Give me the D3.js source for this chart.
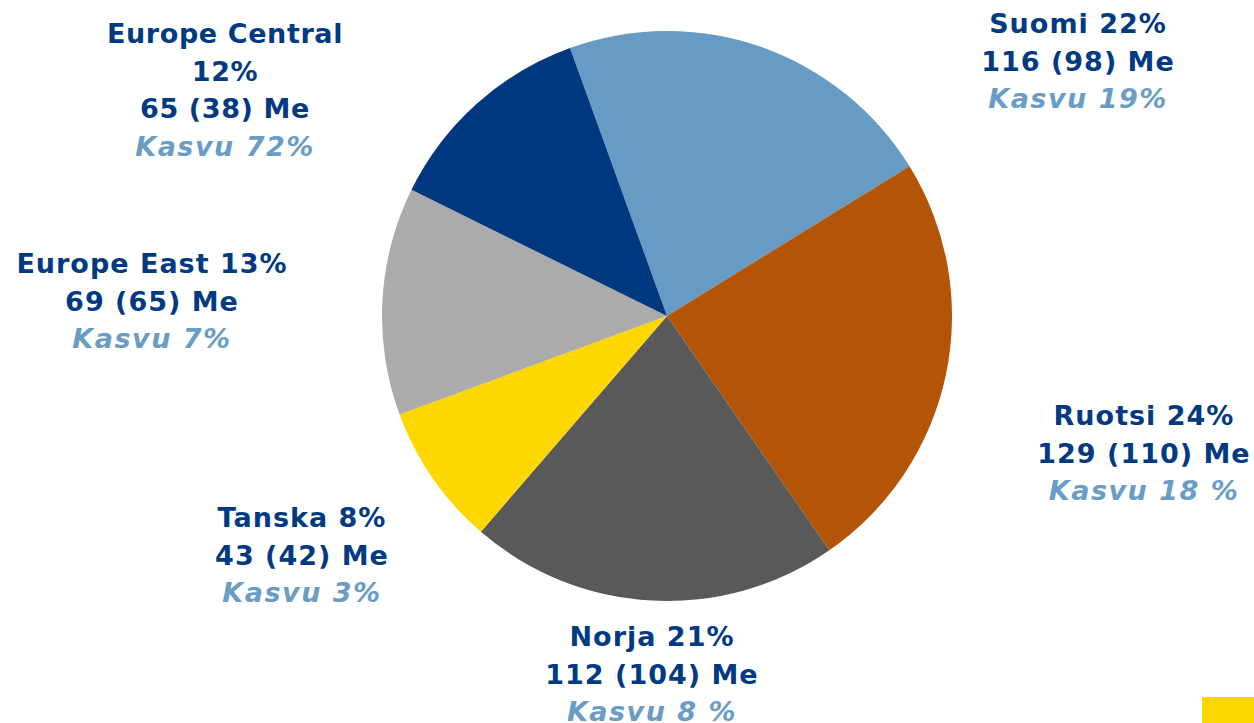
<!DOCTYPE html>
<html><head><meta charset="utf-8">
<script src="https://cdn.jsdelivr.net/npm/d3@7"></script>
<style>
html,body{margin:0;padding:0;background:#fff;}
svg{display:block;}
</style></head>
<body>
<svg id="chart" width="1254" height="723"></svg>
<script>
// Data
const categories = ["Suomi", "Ruotsi", "Norja", "Tanska", "Europe East", "Europe Central"];
const values = [116, 129, 112, 43, 69, 65];          // Me, current
const previous = [98, 110, 104, 42, 65, 38];          // Me, previous year
const shareLabels = ["22%", "24%", "21%", "8%", "13%", "12%"];
const growthLabels = ["19%", "18 %", "8 %", "3%", "7%", "72%"];

// Styles / layout (not data)
const colors = ["#659BC4", "#B35407", "#595959", "#FFD700", "#ABABAB", "#00387F"];
const navy = "#003A82", light = "#6A9DC6";
const cx = 667, cy = 316, R = 285;
const startDeg = -19.9;
// label anchor (center x, first baseline) and line arrangement
const labelLayout = [
  {x: 1078, y: 33,  split: false},
  {x: 1144, y: 425, split: false},
  {x: 652,  y: 646, split: false},
  {x: 302,  y: 527, split: false},
  {x: 152,  y: 273, split: false},
  {x: 225,  y: 43,  split: true}
];
const lineH = 37.5;

const svg = d3.select("#chart");
const pie = d3.pie().sort(null).value(d => d)
  .startAngle(startDeg * Math.PI / 180)
  .endAngle((startDeg + 360) * Math.PI / 180);
const arc = d3.arc().innerRadius(0).outerRadius(R);
const color = d3.scaleOrdinal().domain(categories).range(colors);

const g = svg.append("g").attr("transform", `translate(${cx},${cy})`);
g.selectAll("path").data(pie(values)).join("path")
  .attr("d", arc)
  .attr("fill", (d, i) => color(categories[i]));

const font = "'DejaVu Sans', Verdana, sans-serif";
categories.forEach((c, i) => {
  const L = labelLayout[i];
  let lines;
  if (L.split) {
    lines = [
      {t: c, col: navy, it: false},
      {t: shareLabels[i], col: navy, it: false}
    ];
  } else {
    lines = [{t: c + " " + shareLabels[i], col: navy, it: false}];
  }
  lines.push({t: values[i] + " (" + previous[i] + ") Me", col: navy, it: false});
  lines.push({t: "Kasvu " + growthLabels[i], col: light, it: true});
  const t = svg.append("text")
    .attr("text-anchor", "middle")
    .attr("font-family", font)
    .attr("font-weight", "bold")
    .attr("font-size", 27);
  lines.forEach((ln, k) => {
    t.append("tspan")
      .attr("x", L.x)
      .attr("y", L.y + k * lineH)
      .attr("fill", ln.col)
      .attr("font-style", ln.it ? "italic" : "normal")
      .attr("letter-spacing", ln.it ? 1.5 : (L.split ? 0.6 : 1.0))
      .text(ln.t);
  });
});

// decorative corner block
svg.append("rect").attr("x", 1202).attr("y", 697).attr("width", 52).attr("height", 26).attr("fill", "#FFD700");
</script>
</body></html>
